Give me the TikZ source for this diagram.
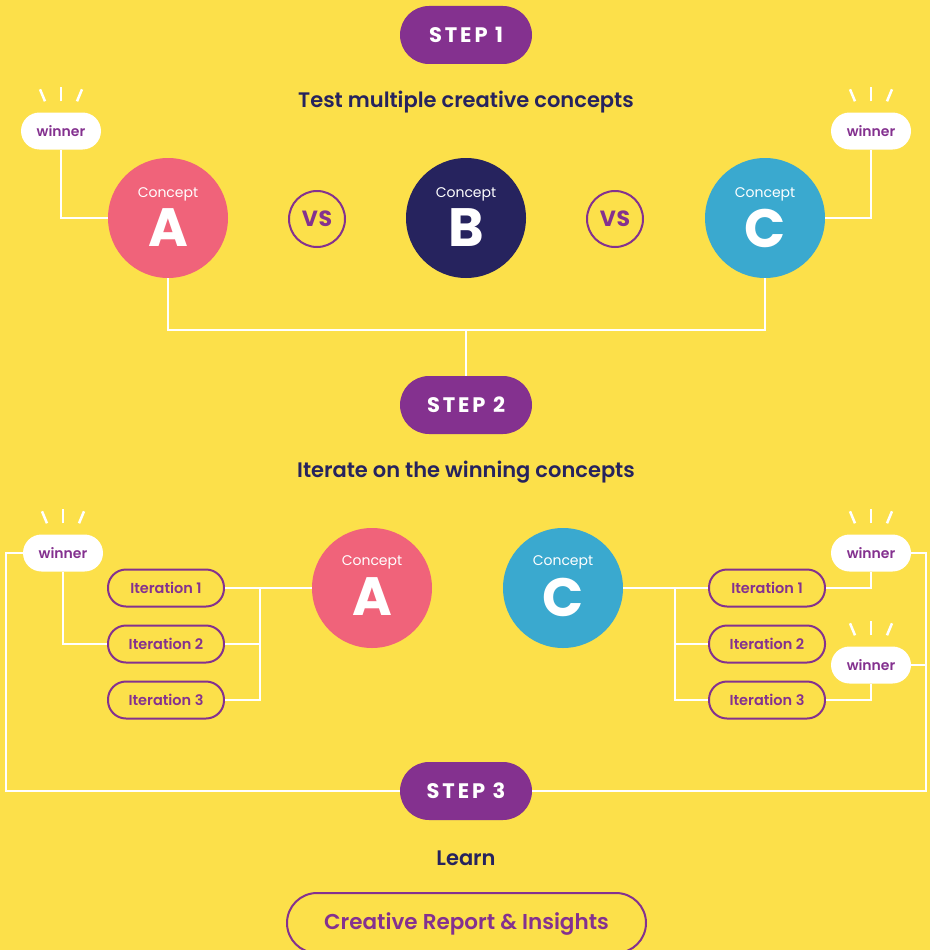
\documentclass[tikz,border=0pt]{standalone}
\usepackage{fontspec}
\setmainfont{Poppins}[BoldFont={Poppins SemiBold}]
\newfontfamily\heavyfont{Poppins}[BoldFont={Poppins Bold}]
\usetikzlibrary{calc}
\definecolor{bg}{RGB}{252,224,74}
\definecolor{purp}{RGB}{132,49,143}
\definecolor{navy}{RGB}{38,35,94}
\definecolor{pinkc}{RGB}{240,99,122}
\definecolor{bluec}{RGB}{58,169,207}
\begin{document}
\begin{tikzpicture}[x=1pt,y=-1pt,
  stepbadge/.style={fill=purp, rounded corners=29pt, minimum width=132pt, minimum height=58pt, text=white, inner sep=0pt,
    font=\heavyfont\fontsize{21}{21}\selectfont\bfseries\addfontfeatures{LetterSpace=14}},
  heading/.style={text=navy, font=\fontsize{21}{21}\selectfont\bfseries},
  winnerbox/.style={fill=white, rounded corners=18.5pt, minimum width=80pt, minimum height=37pt, inner sep=0pt, text=purp,
    font=\fontsize{14}{14}\selectfont\bfseries},
  iterbox/.style={draw=purp, line width=2pt, rounded corners=18pt, minimum width=116pt, minimum height=37pt, inner sep=0pt, text=purp,
    font=\fontsize{14.5}{14.5}\selectfont\bfseries},
  concept/.style={circle, minimum size=120pt, inner sep=0pt},
  clab/.style={text=white, inner sep=0pt, font=\fontsize{14}{14}\selectfont},
  cletter/.style={text=white, inner sep=0pt, font=\heavyfont\fontsize{54}{54}\selectfont\bfseries},
  vsnode/.style={circle, draw=purp, line width=2pt, minimum size=56pt, inner sep=0pt, text=purp,
    font=\heavyfont\fontsize{22}{22}\selectfont\bfseries\addfontfeatures{LetterSpace=4}},
  wire/.style={draw=white, line width=2.5pt},
  ray/.style={draw=white, line width=2.5pt}
]
\fill[bg] (0,0) rectangle (930,950);
\useasboundingbox (0,0) rectangle (930,950);

% ---------- STEP 1 ----------
\node[stepbadge] (s1) at (466,35) {STEP 1};
\node[heading] (h1) at (466,102) {Test multiple creative concepts};

\node[concept, fill=pinkc] (cA) at (168,218) {};
\node[concept, fill=navy] (cB) at (466,218) {};
\node[concept, fill=bluec] (cC) at (765,218) {};
\foreach \c/\l in {cA/A,cB/B,cC/C}{
  \node[clab] (\c-t) at ($(\c)+(0,-24)$) {Concept};
  \node[cletter] (\c-l) at ($(\c)+(0,10)$) {\l};
}
\node[vsnode] (vs1) at (317,219) {VS};
\node[vsnode] (vs2) at (615,219) {VS};

\node[winnerbox] (w1) at (61,131) {winner};
\node[winnerbox] (w2) at (871,131) {winner};

% ---------- STEP 2 ----------
\node[stepbadge] (s2) at (466,405) {STEP 2};
\node[heading] (h2) at (466,472) {Iterate on the winning concepts};

\node[concept, fill=pinkc] (dA) at (372,588) {};
\node[concept, fill=bluec] (dC) at (563,588) {};
\foreach \c/\l in {dA/A,dC/C}{
  \node[clab] (\c-t) at ($(\c)+(0,-26)$) {Concept};
  \node[cletter] (\c-l) at ($(\c)+(0,9)$) {\l};
}

\node[iterbox] (l1) at (166,588) {Iteration 1};
\node[iterbox] (l2) at (166,644) {Iteration 2};
\node[iterbox] (l3) at (166,700) {Iteration 3};
\node[iterbox] (r1) at (767,588) {Iteration 1};
\node[iterbox] (r2) at (767,644) {Iteration 2};
\node[iterbox] (r3) at (767,700) {Iteration 3};

\node[winnerbox] (w3) at (63,553) {winner};
\node[winnerbox] (w4) at (871,553) {winner};
\node[winnerbox] (w5) at (871,665) {winner};

% ---------- STEP 3 ----------
\node[stepbadge] (s3) at (466,791) {STEP 3};
\node[heading] (h3) at (466,858) {Learn};
\node[draw=purp, line width=2pt, rounded corners=30pt, minimum width=359pt, minimum height=60pt, inner sep=0pt, text=purp,
  text height=15pt, text depth=3pt,
  font=\fontsize{21.5}{21.5}\selectfont\bfseries] (rep) at (466.5,923) {Creative Report \& Insights};

% ---------- rays ----------
\foreach \w in {w1,w2,w3,w4,w5}{
  \draw[ray] ($(\w.north)+(0,-11)$) -- ($(\w.north)+(0,-25)$);
  \draw[ray] ($(\w.north)+(-16,-11)$) -- ($(\w.north)+(-21,-23)$);
  \draw[ray] ($(\w.north)+(16,-11)$) -- ($(\w.north)+(21,-23)$);
}

% ---------- wires ----------
\coordinate (j1) at (466,330);
\draw[wire] (w1.south) |- (cA.west);
\draw[wire] (w2.south) |- (cC.east);
\draw[wire] (cA.south) |- (j1) -| (cC.south);
\draw[wire] (j1) -- (s2.north);

\coordinate (bl) at (260,588);
\draw[wire] (l1.east) -- (dA.west);
\draw[wire] (l2.east) -| (bl);
\draw[wire] (l3.east) -| (bl);
\draw[wire] (w3.south) |- (l2.west);

\coordinate (br) at (675,588);
\draw[wire] (dC.east) -- (r1.west);
\draw[wire] (r2.west) -| (br);
\draw[wire] (r3.west) -| (br);
\draw[wire] (r1.east) -| (w4.south);
\draw[wire] (r3.east) -| (w5.south);

\coordinate (ol) at (6,553);
\coordinate (or) at (926,553);
\draw[wire] (w3.west) -- (ol) |- (s3.west);
\draw[wire] (w4.east) -- (or) |- (s3.east);
\draw[wire] (w5.east) -- (w5.east -| or);
\end{tikzpicture}
\end{document}
